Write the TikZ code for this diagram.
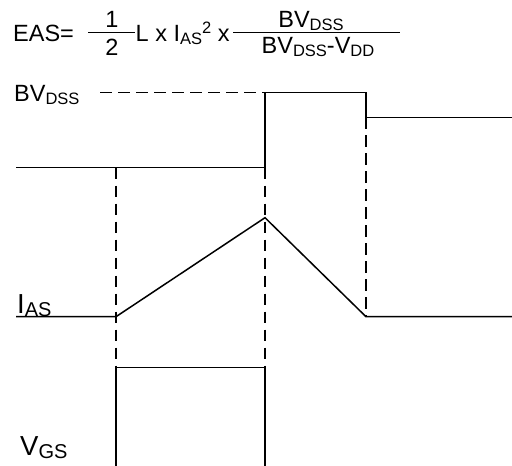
\documentclass[tikz,border=0pt]{standalone}
\usepackage{fontspec}
\setmainfont{Liberation Sans}
\newcommand{\fmain}{\fontsize{23.5}{26}\selectfont}
\newcommand{\flab}{\fontsize{27.5}{30}\selectfont}
\newcommand{\sbm}[1]{\raisebox{-3pt}{\fontsize{16.5}{18}\selectfont #1}}
\newcommand{\spm}[1]{\raisebox{8.5pt}{\fontsize{16.5}{18}\selectfont #1}}
\newcommand{\sbl}[1]{\raisebox{-3.5pt}{\fontsize{20}{22}\selectfont #1}}
\begin{document}
\begin{tikzpicture}[x=1pt,y=-1pt,
  wave/.style={line width=1.5pt,line join=miter},
  guide/.style={line width=1.5pt,dash pattern=on 11.5pt off 6.5pt},
  txt/.style={inner sep=0pt,font=\fmain},
  bigtxt/.style={inner sep=0pt,font=\flab}]
\useasboundingbox (0,0) rectangle (512,466);
% formula
\node[txt,anchor=base west] (eas) at (13,41.7) {EAS=};
\draw[line width=1.3pt] (88,32.3) -- (135,32.3);
\node[txt,anchor=base] (one) at (112,27.5) {1};
\node[txt,anchor=base] (two) at (112,55) {2};
\node[txt,anchor=base west] (lx) at (135.5,41.7) {L x I\sbm{AS}\spm{2} x};
\draw[line width=1.3pt] (233,32.3) -- (400,32.3);
\node[txt,anchor=base] (num) at (311,27) {BV\sbm{DSS}};
\node[txt,anchor=base] (den) at (318,53.5) {BV\sbm{DSS}-V\sbm{DD}};
% labels
\node[txt,anchor=base west] (bvl) at (14,101.7) {BV\sbm{DSS}};
\node[bigtxt,anchor=base west] (ial) at (17,313) {I\sbl{AS}};
\node[bigtxt,anchor=base west] (vgl) at (20,455) {V\sbl{GS}};
% coordinates
\coordinate (t0) at (16,167.5);
\coordinate (t1) at (265,167.5);
\coordinate (t2) at (265,92.3);
\coordinate (t3) at (366,92.3);
\coordinate (t4) at (366,117.3);
\coordinate (t5) at (512,117.3);
\coordinate (d0) at (100,92.3);
\coordinate (i0) at (16,316.7);
\coordinate (i1) at (116,316.7);
\coordinate (i2) at (265,217.7);
\coordinate (i3) at (366,316.7);
\coordinate (i4) at (512,316.7);
\coordinate (g0) at (116,466);
\coordinate (g1) at (116,367.7);
\coordinate (g2) at (265,367.7);
\coordinate (g3) at (265,466);
\coordinate (a0) at (116,167.5);
% guides
\draw[guide] (d0) -- (t2);
\draw[guide] (a0) -- (g1);
\draw[guide] (t1) -- (g2);
\draw[guide] (t4) -- (i3);
% waveforms
\draw[wave] (t0) -- (t1) -- (t2) -- (t3) -- (t4) -- (t5);
\draw[wave] (i0) -- (i1) -- (i2) -- (i3) -- (i4);
\draw[wave] (g0) -- (g1) -- (g2) -- (g3);
\end{tikzpicture}
\end{document}
